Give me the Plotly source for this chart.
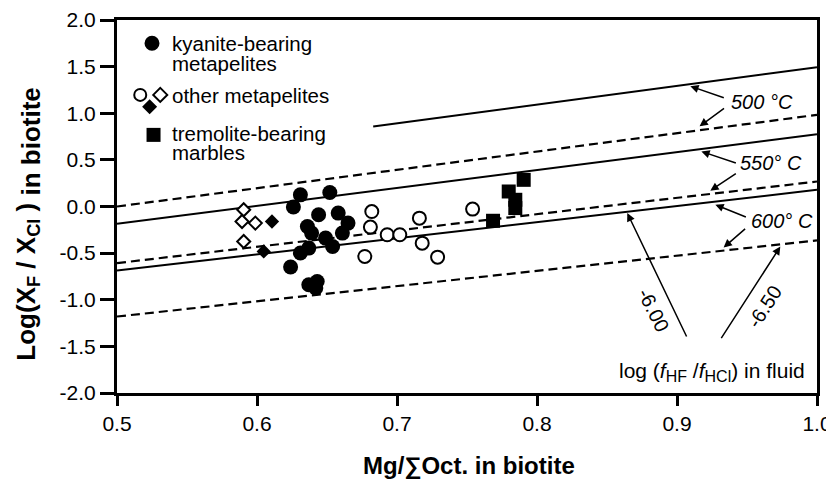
import plotly.graph_objects as go

# ---------------- data ----------------
kyanite_x = [0.631, 0.652, 0.626, 0.644, 0.636, 0.639, 0.658, 0.665, 0.661, 0.649,
             0.654, 0.637, 0.631, 0.624, 0.643, 0.637, 0.642]
kyanite_y = [0.125, 0.150, -0.006, -0.089, -0.214, -0.285, -0.071, -0.178, -0.285, -0.339,
             -0.429, -0.446, -0.499, -0.649, -0.804, -0.839, -0.874]

other_circle_x = [0.682, 0.681, 0.693, 0.702, 0.716, 0.718, 0.677, 0.729, 0.754]
other_circle_y = [-0.054, -0.221, -0.303, -0.303, -0.125, -0.393, -0.536, -0.543, -0.028]

other_diamond_open_x = [0.5905, 0.5893, 0.5988, 0.5905]
other_diamond_open_y = [-0.035, -0.161, -0.178, -0.375]

other_diamond_filled_x = [0.6107, 0.6048]
other_diamond_filled_y = [-0.161, -0.482]

tremolite_x = [0.7905, 0.7798, 0.7845, 0.7845, 0.7686]
tremolite_y = [0.286, 0.161, 0.072, -0.017, -0.153]

# isopleths: log(fHF/fHCl) = -6.00 (solid) and -6.50 (dashed) at 500, 550, 600 C
iso_500_solid_x = [0.683, 1.0]
iso_500_solid_y = [0.857, 1.494]
iso_500_dash_x = [0.5, 1.0]
iso_500_dash_y = [0.0, 0.983]
iso_550_solid_x = [0.5, 1.0]
iso_550_solid_y = [-0.185, 0.776]
iso_550_dash_x = [0.5, 1.0]
iso_550_dash_y = [-0.607, 0.268]
iso_600_solid_x = [0.5, 1.0]
iso_600_solid_y = [-0.686, 0.179]
iso_600_dash_x = [0.5, 1.0]
iso_600_dash_y = [-1.18, -0.364]

x_tickvals = [0.5, 0.6, 0.7, 0.8, 0.9, 1.0]
x_ticktext = ["0.5", "0.6", "0.7", "0.8", "0.9", "1.0"]
y_tickvals = [2.0, 1.5, 1.0, 0.5, 0.0, -0.5, -1.0, -1.5, -2.0]
y_ticktext = ["2.0", "1.5", "1.0", "0.5", "0.0", "-0.5", "-1.0", "-1.5", "-2.0"]

# ---------------- figure ----------------
FONT = "Liberation Sans, Arial, Helvetica, sans-serif"
fig = go.Figure()

def iso(x, y, dashed):
    fig.add_trace(go.Scatter(
        x=x, y=y, mode="lines", showlegend=False, hoverinfo="skip",
        line=dict(color="black", width=2.2 if dashed else 2,
                  dash="9px,5px" if dashed else "solid")))

iso(iso_500_solid_x, iso_500_solid_y, False)
iso(iso_500_dash_x, iso_500_dash_y, True)
iso(iso_550_solid_x, iso_550_solid_y, False)
iso(iso_550_dash_x, iso_550_dash_y, True)
iso(iso_600_solid_x, iso_600_solid_y, False)
iso(iso_600_dash_x, iso_600_dash_y, True)

fig.add_trace(go.Scatter(x=other_circle_x, y=other_circle_y, mode="markers", showlegend=False,
                         marker=dict(symbol="circle", size=13, color="white",
                                     line=dict(color="black", width=2))))
fig.add_trace(go.Scatter(x=other_diamond_open_x, y=other_diamond_open_y, mode="markers", showlegend=False,
                         marker=dict(symbol="diamond", size=10, color="white",
                                     line=dict(color="black", width=2))))
fig.add_trace(go.Scatter(x=other_diamond_filled_x, y=other_diamond_filled_y, mode="markers", showlegend=False,
                         marker=dict(symbol="diamond", size=11, color="black",
                                     line=dict(width=0))))
fig.add_trace(go.Scatter(x=kyanite_x, y=kyanite_y, mode="markers", showlegend=False,
                         marker=dict(symbol="circle", size=15, color="black",
                                     line=dict(width=0))))
fig.add_trace(go.Scatter(x=tremolite_x, y=tremolite_y, mode="markers", showlegend=False,
                         marker=dict(symbol="square", size=14, color="black",
                                     line=dict(width=0))))

# ---------------- legend drawn as shapes + text ----------------
def pshape(kind, xa, ya, half, fill, lw=0, path=None):
    d = dict(type=kind, xref="x", yref="y", xsizemode="pixel", ysizemode="pixel",
             xanchor=xa, yanchor=ya, fillcolor=fill,
             line=dict(color="black", width=lw), layer="above")
    if path:
        d["path"] = path
    else:
        d.update(x0=-half, x1=half, y0=-half, y1=half)
    fig.add_shape(**d)

pshape("circle", 0.525, 1.751, 7.5, "black")
pshape("circle", 0.5166, 1.197, 6, "white", 2)
pshape("path", 0.5309, 1.197, 0, "white", 2, path="M 0 7 L 7 0 L 0 -7 L -7 0 Z")
pshape("path", 0.5233, 1.071, 0, "black", 0, path="M 0 7.5 L 7.5 0 L 0 -7.5 L -7.5 0 Z")
pshape("rect", 0.5261, 0.768, 7, "black")

leg_font = dict(family=FONT, size=20.5, color="black")
for txt, yy in [("kyanite-bearing", 1.745), ("metapelites", 1.530),
                ("other metapelites", 1.19), ("tremolite-bearing", 0.78), ("marbles", 0.583)]:
    fig.add_annotation(x=0.5385, y=yy, xref="x", yref="y", text=txt, showarrow=False,
                       xanchor="left", yanchor="middle", font=leg_font, borderpad=0)

# ---------------- temperature labels and arrows ----------------
t_font = dict(family=FONT, size=20, color="black")
for txt, xx, yy in [("<i>500 °C</i>", 0.9609, 1.122), ("<i>550° C</i>", 0.9674, 0.468),
                    ("<i>600° C</i>", 0.9753, -0.155)]:
    fig.add_annotation(x=xx, y=yy, xref="x", yref="y", text=txt, showarrow=False,
                       xanchor="center", yanchor="middle", font=t_font)

arrows = [
    (0.9095, 1.29, 35, 12),
    (0.9161, 0.86, 26, -19),
    (0.9174, 0.59, 36, 12),
    (0.9238, 0.17, 27, -18),
    (0.9274, 0.02, 32, 13),
    (0.9333, -0.44, 23, -20),
    (0.8645, -0.07, 60, 125),
    (0.9738, -0.43, -60, 93),
]
for hx, hy, ax, ay in arrows:
    fig.add_annotation(x=hx, y=hy, xref="x", yref="y", ax=ax, ay=ay, text="",
                       showarrow=True, arrowhead=2, arrowsize=1.1, arrowwidth=1.5,
                       arrowcolor="black", standoff=0, startstandoff=0)

fig.add_annotation(x=0.8833, y=-1.108, xref="x", yref="y", text="-6.00", showarrow=False,
                   textangle=63, font=dict(family=FONT, size=20, color="black"))
fig.add_annotation(x=0.963, y=-1.072, xref="x", yref="y", text="-6.50", showarrow=False,
                   textangle=-57, font=dict(family=FONT, size=20, color="black"))
fig.add_annotation(x=0.9929, y=-1.771, xref="x", yref="y",
                   text="log (<i>f</i><sub><span style=\"font-size:16px\">HF</span></sub> /"
                        "<i>f</i><sub><span style=\"font-size:16px\">HCl</span></sub>) in fluid",
                   showarrow=False, xanchor="right", yanchor="middle",
                   font=dict(family=FONT, size=21, color="black"))

# ---------------- axis titles ----------------
fig.add_annotation(x=0.5023, y=-0.2365, xref="paper", yref="paper",
                   text="<b>Mg/∑Oct. in biotite</b>", showarrow=False,
                   xanchor="center", yanchor="bottom", borderpad=0,
                   font=dict(family=FONT, size=24, color="black"))
fig.add_annotation(x=-0.126, y=0.4535, xref="paper", yref="paper",
                   text="<b>Log(X<sub>F</sub> / X<sub>Cl</sub> )<sub><span style=\"font-size:26px\"> in biotite</span></sub></b>",
                   showarrow=False, textangle=-90, xanchor="center", yanchor="middle",
                   font=dict(family=FONT, size=26, color="black"))

axis_common = dict(showgrid=False, zeroline=False, showline=True, linecolor="black",
                   linewidth=3, mirror=True, ticks="outside", tickcolor="black",
                   tickwidth=2.5, automargin=False,
                   tickfont=dict(family=FONT, size=21, color="black"))
fig.update_xaxes(range=[0.5, 1.0], tickvals=x_tickvals, ticktext=x_ticktext,
                 ticklen=10, **axis_common)
fig.update_yaxes(range=[-2.0, 2.0], tickvals=y_tickvals, ticktext=y_ticktext,
                 ticklen=14, **axis_common)

# the page body adds an 8px offset, so the figure is sized to the visible area
fig.update_layout(template="none", width=826, height=472,
                  plot_bgcolor="white", paper_bgcolor="white",
                  margin=dict(l=109, r=17, t=12, b=87, autoexpand=False), showlegend=False)

fig.write_html("out.html")
